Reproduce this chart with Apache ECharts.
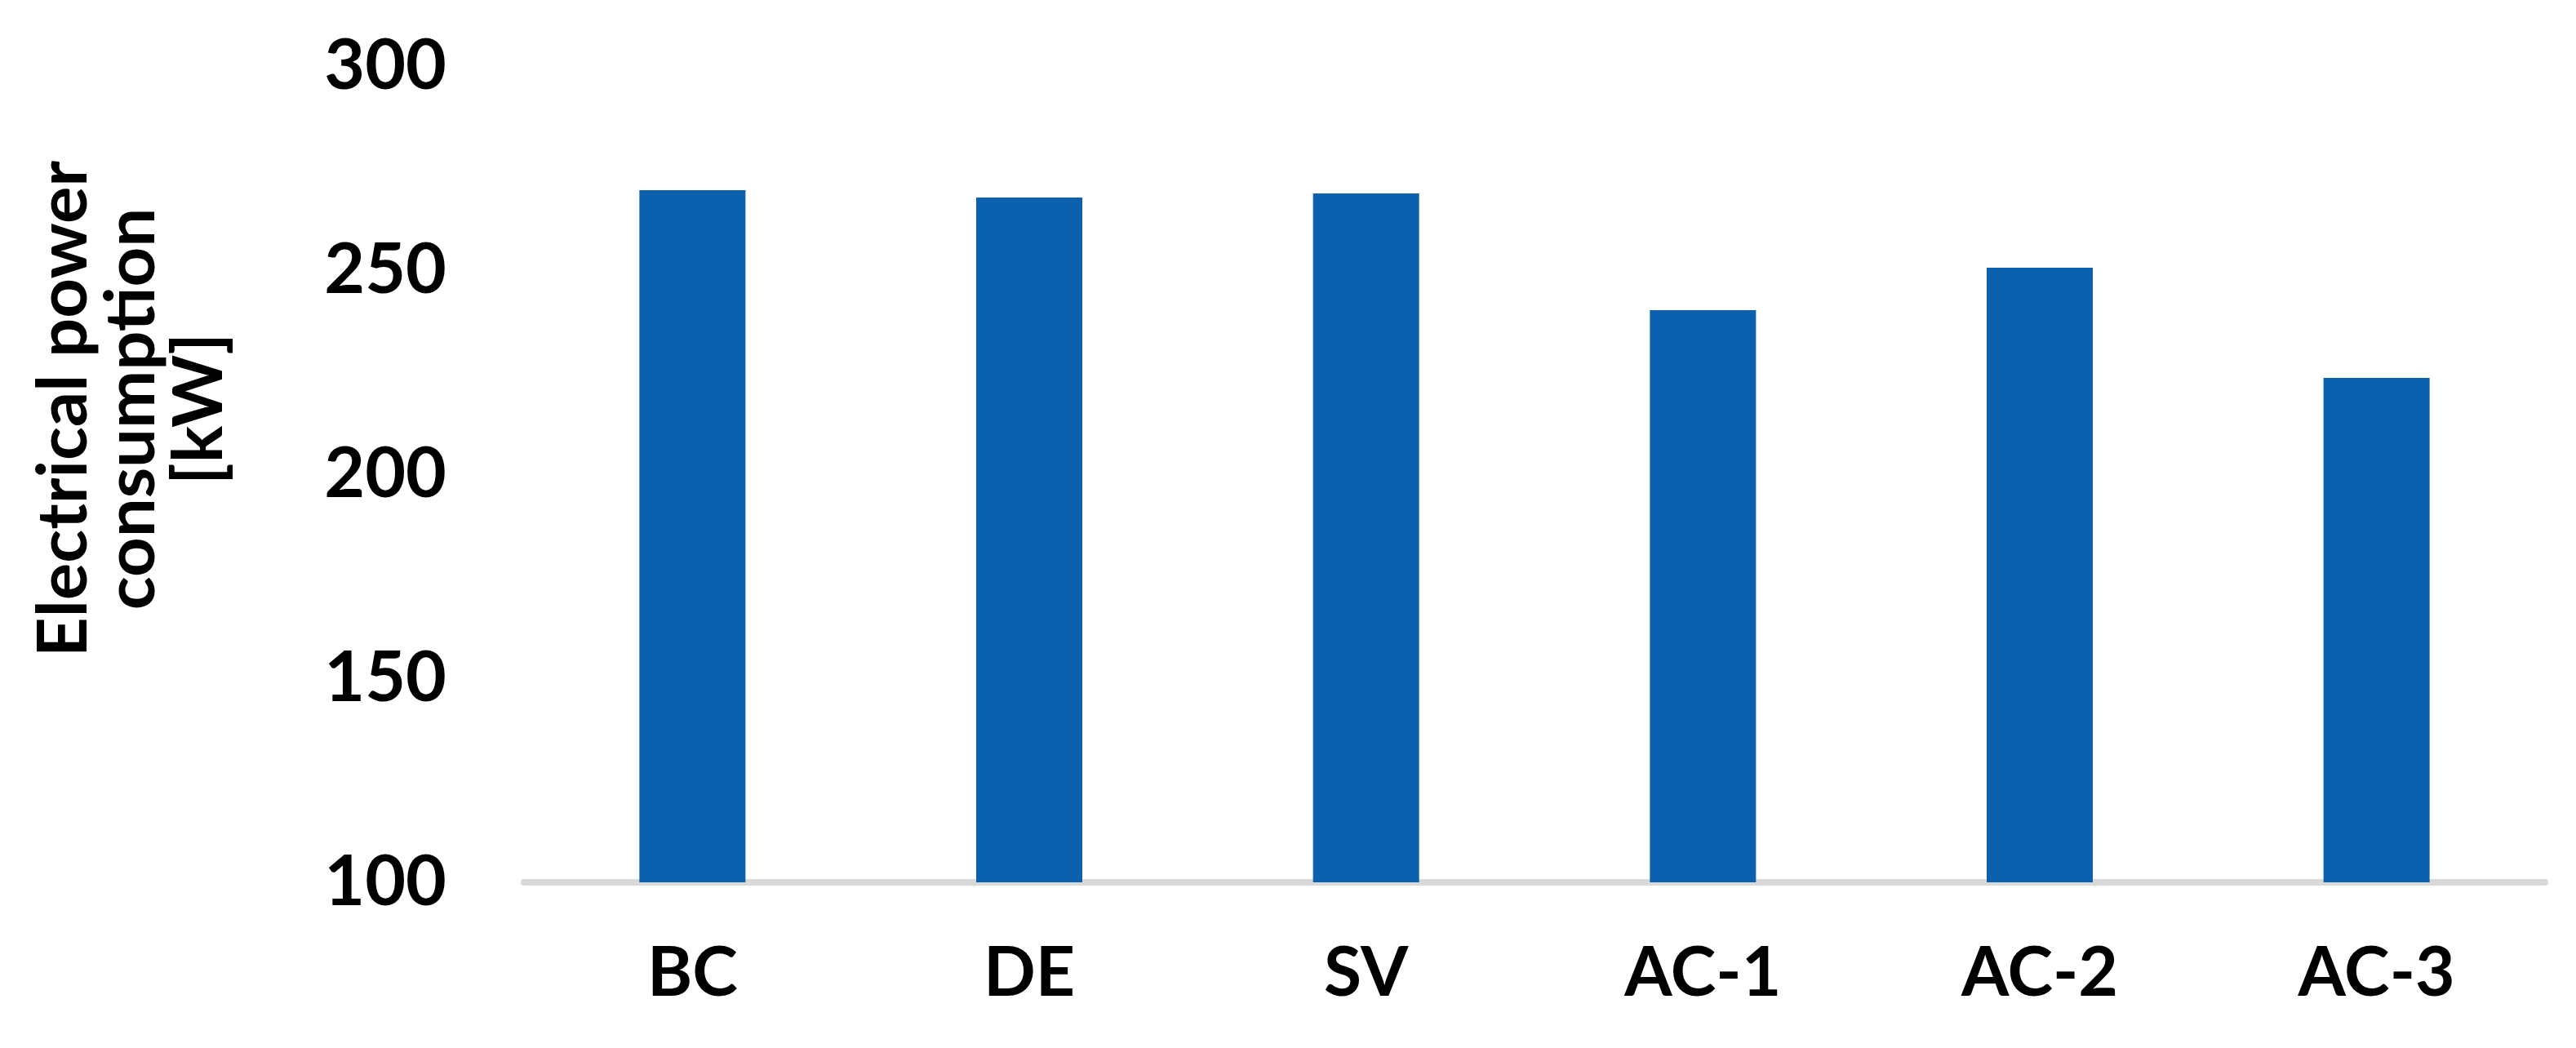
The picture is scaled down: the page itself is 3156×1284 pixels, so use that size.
<!DOCTYPE html>
<html>
<head>
<meta charset="utf-8">
<script src="https://cdn.jsdelivr.net/npm/echarts@6/dist/echarts.min.js"></script>
<style>
  html, body { margin: 0; padding: 0; background: #fff; }
  #chart { width: 3156px; height: 1284px; }
</style>
</head>
<body>
<div id="chart"></div>
<script>
// 各工况的电功率消耗柱状图。

const categories = ["BC", "DE", "SV", "AC-1", "AC-2", "AC-3"];
const powerKw = [269.6, 267.8, 268.8, 240.2, 250.6, 223.6];
const yTicks = { min: 100, max: 300, step: 50 };
const yTitle = "Electrical power\nconsumption\n[kW]";

const BAR_COLOR = "#0c61ae";
const FONT = "Lato";

const chart = echarts.init(document.getElementById("chart"), null, { renderer: "canvas" });

chart.setOption({
  backgroundColor: "#ffffff",
  animation: false,
  grid: { left: 642, right: 38, top: 81, bottom: 203, outerBoundsMode: "none", containLabel: false },
  xAxis: {
    type: "category",
    data: categories,
    axisLine: { lineStyle: { color: "#d9d9d9", width: 8 } },
    axisTick: { show: false },
    axisLabel: { color: "#000", fontFamily: FONT, fontWeight: "bold", fontSize: 84, margin: 70 },
  },
  yAxis: {
    type: "value",
    min: yTicks.min,
    max: yTicks.max,
    interval: yTicks.step,
    name: yTitle,
    nameLocation: "middle",
    nameGap: 356,
    nameRotate: 90,
    nameTextStyle: {
      color: "#000", fontFamily: FONT, fontWeight: "bold", fontSize: 85, lineHeight: 83,
      padding: [0, 0, 0, 160],
    },
    axisLine: { show: false },
    axisTick: { show: false },
    splitLine: { show: false },
    axisLabel: { color: "#000", fontFamily: FONT, fontWeight: "bold", fontSize: 86, margin: 95 },
  },
  series: [
    {
      type: "bar",
      data: powerKw,
      barWidth: 130,
      itemStyle: { color: BAR_COLOR },
    },
  ],
});
</script>
</body>
</html>
